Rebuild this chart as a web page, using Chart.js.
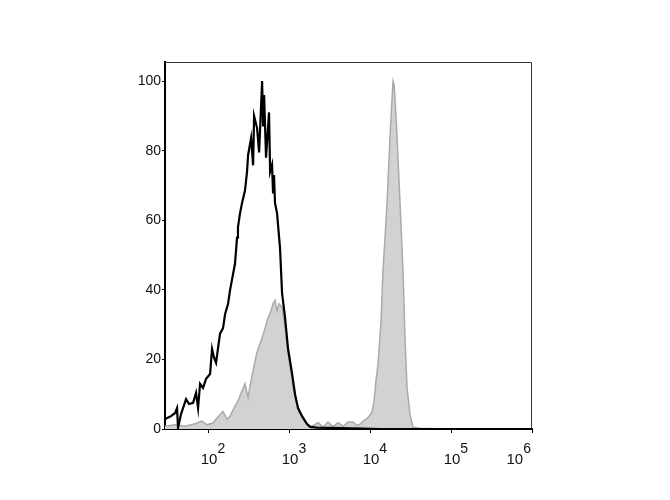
<!DOCTYPE html>
<html>
<head>
<meta charset="utf-8">
<script src="https://cdn.jsdelivr.net/npm/chart.js@4.4.0/dist/chart.umd.min.js"></script>
<style>
  html, body { margin: 0; padding: 0; background: #ffffff; }
  #wrap { width: 670px; height: 500px; }
</style>
</head>
<body>
<div id="wrap"><canvas id="c" width="670" height="500"></canvas></div>
<script>
// Fluorescence intensity (log axis) and normalized counts
const blackIntensity = [29.4,30.3,34.9,39.2,41.4,42.6,46.4,53.5,58.2,65.3,71.1,75.3,79.7,86.7,94.5,105.9,112,118.6,125.6,132.9,140.6,153.1,162.2,176.6,187.1,215,228,234,248,263,286,303,312,340,360,370,403,427,465,478,492,520,566,584,617,634,652,671,711,774,820,893,973,1089,1186,1291,1445,1667,1816,2218,3206,8204,13183,1000000];
const blackCount = [2.8,3,3.7,4.6,6,0.3,4.3,8.6,7.2,7.5,10.4,6,13,11.8,14.4,15.8,23,20.5,19,23.3,27.4,29,33,36,40,47.5,55,58,62,65,68.6,74,78.7,83.6,75.8,90,86.5,79.5,100,87,96,78,91,74,76,68,73,65,62,52,39,32,23,16,10,6,3.7,1.4,0.6,0.4,0.3,0.1,0,0];

const greyIntensity = [29.4,39,52,69,84,97,115,133,153,172,187,209,234,263,286,312,340,360,392,414,478,520,551,600,634,671,711,753,820,893,1000,1119,1219,1368,1531,1667,1923,2280,2630,3027,3490,4027,4645,5350,6166,6918,7536,8440,9190,10000,10590,11200,11860,12560,13680,14450,15310,16220,17660,18700,19230,19790,20370,21540,23460,25540,27050,28640,31190,33960,41400,97300,1000000];
const greyCount = [0.8,1.2,0.8,1.5,2.3,1.2,1.7,3.5,5,2.8,3.7,6,8,11,13,9,14,16.7,21,23,27,30,32,34,36,37,34,36,35,29,20,12,8,5,3,1.4,0.8,1.8,0.6,2,0.7,1.8,0.8,2,2,1,1.4,2.5,3,4,5,8,14,18.7,31,45.5,55,65,84,95,100,99,95,84,65,45.5,26,12,4,0.5,0.2,0,0];

const xTickValues = [100, 1000, 10000, 100000, 1000000];
const xTickExponents = ['2', '3', '4', '5', '6'];
const yTickValues = [0, 20, 40, 60, 80, 100];

const toPoints = (xs, ys) => xs.map((x, i) => ({ x: x, y: ys[i] }));

const frameAndLabels = {
  id: 'frameAndLabels',
  afterDraw(chart) {
    const ctx = chart.ctx;
    const a = chart.chartArea;
    ctx.save();
    // top and right frame
    ctx.strokeStyle = '#333';
    ctx.lineWidth = 1;
    ctx.beginPath();
    ctx.moveTo(a.left, a.top + 0.5);
    ctx.lineTo(a.right - 0.5, a.top + 0.5);
    ctx.lineTo(a.right - 0.5, a.bottom);
    ctx.stroke();
    // x tick labels as 10 with superscript exponent
    const xs = chart.scales.x;
    ctx.fillStyle = '#111';
    ctx.textBaseline = 'middle';
    xTickValues.forEach((v, i) => {
      const px = xs.getPixelForValue(v);
      ctx.font = '15px "Liberation Sans", Arial, sans-serif';
      const baseW = ctx.measureText('10').width;
      ctx.font = '14px "Liberation Sans", Arial, sans-serif';
      const expW = ctx.measureText(xTickExponents[i]).width;
      let left = px + 1 - baseW / 2;
      if (left + baseW + expW > a.right - 1) left = a.right - 1 - baseW - expW;
      ctx.textAlign = 'left';
      ctx.font = '15px "Liberation Sans", Arial, sans-serif';
      ctx.fillText('10', left, 460);
      ctx.font = '14px "Liberation Sans", Arial, sans-serif';
      ctx.fillText(xTickExponents[i], left + baseW, 449);
    });
    ctx.restore();
  }
};

new Chart(document.getElementById('c'), {
  type: 'line',
  data: {
    datasets: [
      {
        label: 'Stained',
        data: toPoints(greyIntensity, greyCount),
        borderColor: '#aaaaaa',
        backgroundColor: '#d2d2d2',
        borderWidth: 1.5,
        fill: 'origin',
        pointRadius: 0,
        tension: 0,
        order: 1
      },
      {
        label: 'Control',
        data: toPoints(blackIntensity, blackCount),
        borderColor: '#000000',
        borderWidth: 2.2,
        fill: false,
        pointRadius: 0,
        tension: 0,
        order: 0
      }
    ]
  },
  options: {
    responsive: false,
    animation: false,
    devicePixelRatio: 1,
    layout: { padding: { left: 0, right: 138, top: 62, bottom: 0 } },
    plugins: { legend: { display: false }, tooltip: { enabled: false } },
    scales: {
      x: {
        type: 'logarithmic',
        min: 29.4,
        max: 1000000,
        afterBuildTicks(scale) { scale.ticks = xTickValues.map(v => ({ value: v })); },
        afterFit(scale) { scale.height = 71; },
        ticks: { display: false },
        grid: { drawOnChartArea: false, drawTicks: true, tickLength: 4, color: '#000' },
        border: { display: true, color: '#000', width: 2 }
      },
      y: {
        type: 'linear',
        min: 0,
        max: 105.5,
        afterBuildTicks(scale) { scale.ticks = yTickValues.map(v => ({ value: v })); },
        afterFit(scale) { scale.width = 165; },
        ticks: {
          padding: 1,
          color: '#111',
          font: { family: '"Liberation Sans", Arial, sans-serif', size: 14 }
        },
        grid: { drawOnChartArea: false, drawTicks: true, tickLength: 3, color: '#000' },
        border: { display: true, color: '#000', width: 2 }
      }
    }
  },
  plugins: [frameAndLabels]
});
</script>
</body>
</html>
